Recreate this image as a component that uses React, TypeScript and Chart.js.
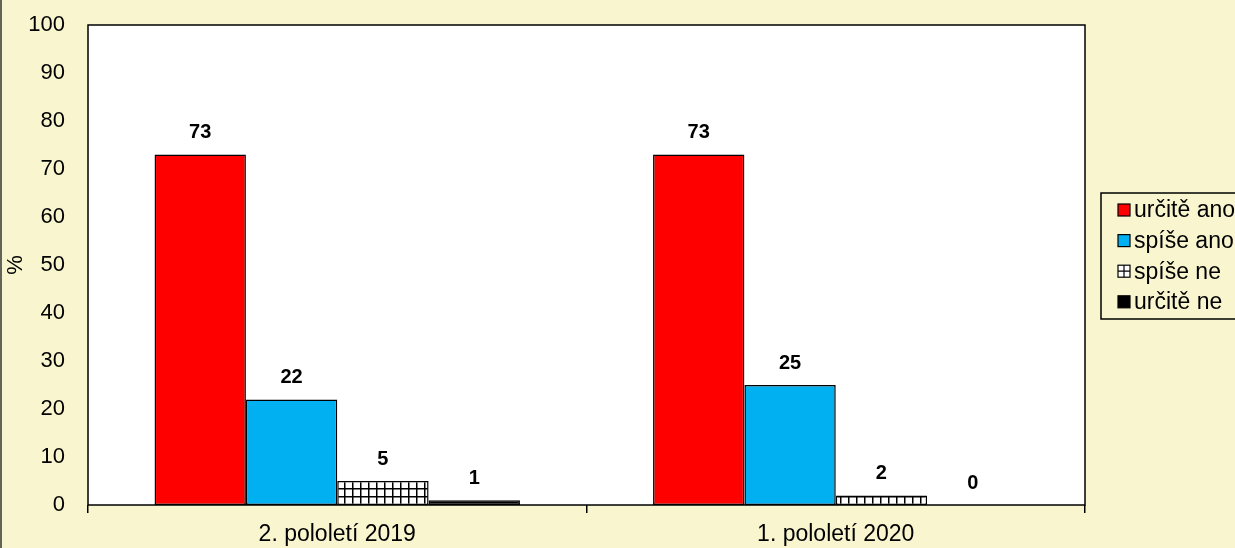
import React, { useEffect, useRef } from "react";
import { Chart, registerables } from "chart.js";

Chart.register(...registerables);

const categories = ["2. pololetí 2019", "1. pololetí 2020"];
const seriesNames = ["určitě ano", "spíše ano", "spíše ne", "určitě ne"];
const urciteAno = [73, 73];
const spiseAno = [22, 25];
const spiseNe = [5, 2];
const urciteNe = [1, 0];
const yTicks = [0, 10, 20, 30, 40, 50, 60, 70, 80, 90, 100];

const BG = "#F9F6CF";
const FONT = "Arial, 'Liberation Sans', sans-serif";

function makePattern(): CanvasPattern | string {
  const c = document.createElement("canvas");
  c.width = 8;
  c.height = 8;
  const g = c.getContext("2d");
  if (!g) return "#fff";
  g.fillStyle = "#fff";
  g.fillRect(0, 0, 8, 8);
  g.fillStyle = "#000";
  g.fillRect(0, 0, 8, 1.5);
  g.fillRect(0, 0, 1.5, 8);
  const p = g.createPattern(c, "repeat");
  return p || "#fff";
}

export default function App() {
  const ref = useRef<HTMLCanvasElement | null>(null);

  useEffect(() => {
    document.body.style.margin = "0";
    const canvas = ref.current;
    if (!canvas) return;
    const pattern = makePattern();
    const colors: any[] = ["#FF0000", "#00B0F0", pattern, "#000000"];
    const values = [urciteAno, spiseAno, spiseNe, urciteNe];

    const bgPlugin = {
      id: "bgPlugin",
      beforeDraw(chart: any) {
        const { ctx, chartArea: a } = chart;
        ctx.save();
        ctx.fillStyle = BG;
        ctx.fillRect(0, 0, chart.width, chart.height);
        ctx.fillStyle = "#fff";
        ctx.fillRect(a.left, a.top, a.right - a.left, a.bottom - a.top);
        ctx.strokeStyle = "#333";
        ctx.lineWidth = 1.5;
        ctx.beginPath();
        ctx.moveTo(1, 0);
        ctx.lineTo(1, chart.height);
        ctx.stroke();
        ctx.restore();
      },
      afterDatasetsDraw(chart: any) {
        const { ctx, chartArea: a } = chart;
        ctx.save();
        ctx.strokeStyle = "#000";
        ctx.lineWidth = 1.5;
        ctx.strokeRect(a.left, a.top, a.right - a.left, a.bottom - a.top);
        // data labels
        ctx.fillStyle = "#000";
        ctx.font = `bold 20px ${FONT}`;
        ctx.textAlign = "center";
        ctx.textBaseline = "middle";
        chart.data.datasets.forEach((ds: any, i: number) => {
          const meta = chart.getDatasetMeta(i);
          meta.data.forEach((el: any, j: number) => {
            ctx.fillText(String(ds.data[j]), el.x, el.y - 22);
          });
        });
        // legend
        const lx = 1101, ly = 193, lw = 160, lh = 126;
        ctx.fillStyle = BG;
        ctx.fillRect(lx, ly, lw, lh);
        ctx.strokeStyle = "#000";
        ctx.lineWidth = 1.5;
        ctx.strokeRect(lx, ly, lw, lh);
        ctx.font = `23px ${FONT}`;
        ctx.textAlign = "left";
        chart.data.datasets.forEach((ds: any, i: number) => {
          const cy = 210 + i * 30.6;
          const sx = 1118, sy = cy - 6, s = 12;
          if (i === 2) {
            ctx.fillStyle = "#fff";
            ctx.fillRect(sx, sy, s, s);
            ctx.strokeStyle = "#000";
            ctx.lineWidth = 1.2;
            ctx.strokeRect(sx, sy, s, s);
            ctx.beginPath();
            ctx.moveTo(sx + s / 2, sy);
            ctx.lineTo(sx + s / 2, sy + s);
            ctx.moveTo(sx, sy + s / 2);
            ctx.lineTo(sx + s, sy + s / 2);
            ctx.stroke();
          } else {
            ctx.fillStyle = ds.backgroundColor;
            ctx.fillRect(sx, sy, s, s);
            ctx.strokeStyle = "#000";
            ctx.lineWidth = 1.2;
            ctx.strokeRect(sx, sy, s, s);
          }
          ctx.fillStyle = "#000";
          ctx.fillText(ds.label, 1134, cy + 1);
        });
        ctx.restore();
      },
    };

    const chart = new Chart(canvas, {
      type: "bar",
      data: {
        labels: categories,
        datasets: seriesNames.map((name, i) => ({
          label: name,
          data: values[i],
          backgroundColor: colors[i],
          borderColor: "#000",
          borderWidth: 1.5,
          borderSkipped: false,
          barPercentage: 1,
          categoryPercentage: 0.733,
        })),
      },
      options: {
        responsive: false,
        animation: false,
        devicePixelRatio: 1,
        layout: { padding: { top: 25, right: 150, left: 0, bottom: 0 } },
        plugins: {
          legend: { display: false },
          tooltip: { enabled: false },
        },
        scales: {
          x: {
            grid: {
              offset: true,
              drawOnChartArea: false,
              drawTicks: true,
              tickLength: 8,
              color: "#000",
              lineWidth: 1.5,
            },
            border: { display: false },
            ticks: {
              color: "#000",
              font: { family: FONT, size: 23 },
              padding: 8,
            },
            afterFit(scale: any) {
              scale.height = 43;
              scale.paddingLeft = 0;
              scale.paddingRight = 0;
            },
          },
          y: {
            min: 0,
            max: 100,
            afterBuildTicks(scale: any) {
              scale.ticks = yTicks.map((v) => ({ value: v }));
            },
            grid: { display: false },
            border: { display: false },
            ticks: {
              color: "#000",
              font: { family: FONT, size: 22 },
              padding: 15,
            },
            title: {
              display: true,
              text: "%",
              color: "#000",
              font: { family: FONT, size: 22 },
              padding: { top: 3, bottom: 0 },
            },
            afterFit(scale: any) {
              scale.width = 88;
              scale.paddingTop = 0;
              scale.paddingBottom = 0;
            },
          },
        },
      },
      plugins: [bgPlugin],
    });
    return () => chart.destroy();
  }, []);

  return <canvas ref={ref} width={1235} height={548} style={{ display: "block" }} />;
}
